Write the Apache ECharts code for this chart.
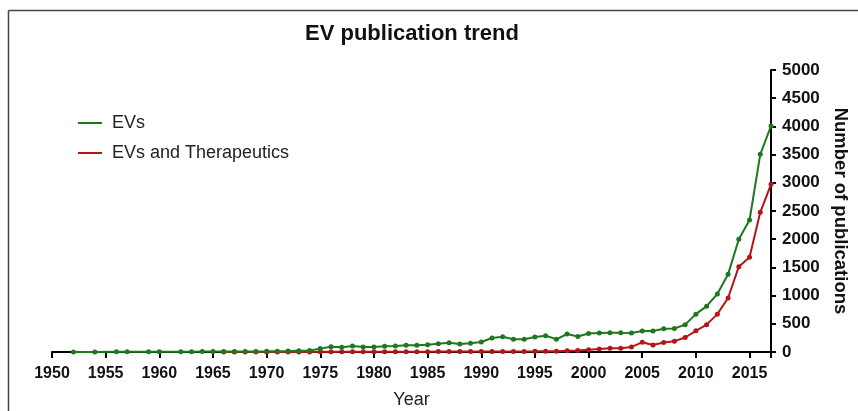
<!DOCTYPE html>
<html>
<head>
<meta charset="utf-8">
<script src="https://cdn.jsdelivr.net/npm/echarts@6/dist/echarts.min.js"></script>
<style>
  html, body { margin: 0; padding: 0; background: #fff; }
  #chart { width: 858px; height: 411px; }
</style>
</head>
<body>
<div id="chart"></div>
<script>
// EVs: some early years have no point
const evYears = [1952, 1954, 1956, 1957, 1959, 1960, 1962, 1963, 1964, 1965, 1966, 1967, 1968, 1969,
  1970, 1971, 1972, 1973, 1974, 1975, 1976, 1977, 1978, 1979, 1980, 1981, 1982, 1983, 1984,
  1985, 1986, 1987, 1988, 1989, 1990, 1991, 1992, 1993, 1994, 1995, 1996, 1997, 1998, 1999,
  2000, 2001, 2002, 2003, 2004, 2005, 2006, 2007, 2008, 2009, 2010, 2011, 2012, 2013, 2014,
  2015, 2016, 2017]
const evValues = [2, 2, 3, 3, 4, 4, 5, 6, 7, 8, 9, 10, 11, 10,
  12, 15, 18, 22, 25, 60, 94, 83, 106, 89, 89, 100, 106, 118, 118,
  130, 148, 165, 142, 154, 177, 248, 272, 225, 225, 266, 290, 225, 319, 275,
  328, 337, 343, 340, 338, 372, 372, 411, 417, 485, 671, 813, 1028, 1377, 1998,
  2340, 3505, 4007]

const therYears = [1966, 1967, 1968, 1969, 1970, 1971, 1972, 1973, 1974, 1975, 1976, 1977, 1978,
  1979, 1980, 1981, 1982, 1983, 1984, 1985, 1986, 1987, 1988, 1989, 1990, 1991, 1992, 1993,
  1994, 1995, 1996, 1997, 1998, 1999, 2000, 2001, 2002, 2003, 2004, 2005, 2006, 2007, 2008,
  2009, 2010, 2011, 2012, 2013, 2014, 2015, 2016, 2017]
const therValues = [1, 1, 1, 1, 1, 1, 1, 2, 2, 3, 4, 4, 4,
  5, 5, 5, 5, 6, 6, 6, 7, 7, 7, 8, 8, 10, 10, 10,
  11, 12, 14, 14, 20, 28, 40, 55, 65, 68, 90, 172, 124, 170, 192,
  257, 375, 485, 671, 958, 1513, 1679, 2477, 2973]

const seriesNames = ['EVs', 'EVs and Therapeutics']
const colors = ['#1e781e', '#b41616']

const zip = (xs, ys) => xs.map((x, i) => [x, ys[i]])

const chart = echarts.init(document.getElementById('chart'))

const option = {
  animation: false,
  backgroundColor: '#fff',
  textStyle: { fontFamily: 'Liberation Sans, Arial, sans-serif' },
  title: {
    text: 'EV publication trend',
    left: 300,
    top: 18,
    textStyle: { fontSize: 22, fontWeight: 'bold', color: '#111' }
  },
  legend: {
    orient: 'vertical',
    left: 73,
    top: 109,
    icon: 'rect',
    itemWidth: 24,
    itemHeight: 2,
    itemGap: 12,
    data: seriesNames,
    textStyle: { fontSize: 18, color: '#222', padding: [0, 0, 0, 5] }
  },
  grid: { left: 52, right: 87, top: 70, bottom: 59, outerBoundsMode: 'none' },
  xAxis: {
    type: 'value',
    min: 1950,
    max: 2017,
    interval: 5,
    name: 'Year',
    nameLocation: 'middle',
    nameGap: 39,
    nameTextStyle: { fontSize: 18, color: '#222' },
    splitLine: { show: false },
    axisLine: { onZero: false, lineStyle: { color: '#000', width: 2 } },
    axisTick: { length: 6, lineStyle: { color: '#000', width: 2 } },
    axisLabel: {
      margin: 14,
      fontSize: 16,
      fontWeight: 'bold',
      color: '#111',
      formatter: v => (v % 5 === 0 ? String(v) : '')
    }
  },
  yAxis: {
    type: 'value',
    position: 'right',
    min: 0,
    max: 5000,
    interval: 500,
    name: 'Number of publications',
    nameLocation: 'middle',
    nameRotate: -90,
    nameGap: 50,
    nameTextStyle: { fontSize: 18.5, fontWeight: 'bold', color: '#111' },
    splitLine: { show: false },
    axisLine: { show: true, onZero: false, lineStyle: { color: '#000', width: 2 } },
    axisTick: { show: true, length: 5, lineStyle: { color: '#000', width: 2 } },
    axisLabel: {
      margin: 11,
      fontSize: 17,
      fontWeight: 'bold',
      color: '#111',
      formatter: v => String(v)
    }
  },
  graphic: [
    { type: 'line', shape: { x1: 8.5, y1: 10.5, x2: 858, y2: 10.5 }, style: { stroke: '#444', lineWidth: 1.5 } },
    { type: 'line', shape: { x1: 8.5, y1: 10.5, x2: 8.5, y2: 411 }, style: { stroke: '#444', lineWidth: 1.5 } }
  ],
  series: [
    {
      name: seriesNames[1],
      type: 'line',
      data: zip(therYears, therValues),
      symbol: 'circle',
      symbolSize: 5,
      itemStyle: { color: colors[1] },
      lineStyle: { color: colors[1], width: 2 }
    },
    {
      name: seriesNames[0],
      type: 'line',
      data: zip(evYears, evValues),
      symbol: 'circle',
      symbolSize: 5,
      itemStyle: { color: colors[0] },
      lineStyle: { color: colors[0], width: 2 }
    }
  ]
}

chart.setOption(option)
</script>
</body>
</html>
